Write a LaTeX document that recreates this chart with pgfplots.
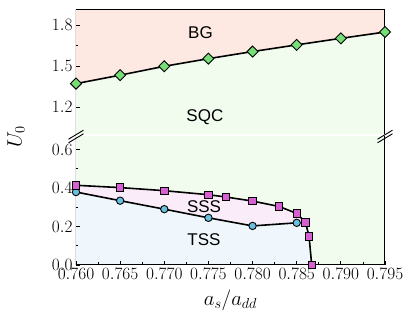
\documentclass[border=0pt]{standalone}
\usepackage{pgfplots}
\pgfplotsset{compat=1.18}
\usepackage{fontspec}
\newfontfamily\hv{Liberation Sans}

\definecolor{bgfill}{RGB}{253,233,225}
\definecolor{sqcfill}{RGB}{242,252,238}
\definecolor{sssfill}{RGB}{250,236,249}
\definecolor{tssfill}{RGB}{239,247,252}
\definecolor{cdiam}{RGB}{119,221,119}
\definecolor{csq}{RGB}{214,96,210}
\definecolor{ccirc}{RGB}{105,192,222}

\pgfplotsset{
  phase/.style={
    scale only axis, width=309pt,
    xmin=0.760, xmax=0.795,
    axis on top,
    axis background/.style={fill=sqcfill},
    axis line style={draw=none},
    tick align=inside,
    xtick pos=lower, ytick pos=left,
    major tick length=4pt, minor tick length=2.5pt,
    every tick/.style={black, line width=0.8pt},
    tick label style={font=\fontsize{19}{23}\selectfont},
    yticklabel style={/pgf/number format/.cd, fixed, fixed zerofill, precision=1},
    xticklabel style={/pgf/number format/.cd, fixed, fixed zerofill, precision=3},
    minor y tick num=1,
  },
  bnd/.style={black, line width=1.6pt},
}

\begin{document}
\begin{tikzpicture}
\useasboundingbox (-76pt,-55pt) rectangle (339pt,265pt);

% lower panel
\begin{axis}[phase, at={(0,0)}, anchor=south west, height=129pt,
  ymin=0, ymax=0.67,
  xtick={0.760,0.765,...,0.795}, minor x tick num=1,
  ytick={0,0.2,0.4,0.6}]
% SSS region (under squares)
\addplot[draw=none, fill=sssfill] coordinates {
  (0.760,0.414) (0.765,0.402) (0.770,0.386) (0.775,0.365) (0.777,0.353)
  (0.780,0.332) (0.783,0.304) (0.785,0.268) (0.786,0.221) (0.7864,0.148)
  (0.7867,0.0) (0.760,0.0)} -- cycle;
% TSS region (under circles)
\addplot[draw=none, fill=tssfill] coordinates {
  (0.760,0.379) (0.765,0.334) (0.770,0.290) (0.775,0.245) (0.780,0.203)
  (0.785,0.219) (0.786,0.221) (0.7864,0.148) (0.7867,0.0) (0.760,0.0)} -- cycle;
% TSS/SSS boundary
\addplot[bnd, mark=*, mark size=3.7pt,
  mark options={fill=ccirc, draw=black, line width=0.9pt}] coordinates {
  (0.760,0.379) (0.765,0.334) (0.770,0.290) (0.775,0.245) (0.780,0.203)
  (0.785,0.219)};
% SSS/SQC boundary
\addplot[bnd, mark=square*, mark size=3.7pt,
  mark options={fill=csq, draw=black, line width=0.9pt}] coordinates {
  (0.760,0.414) (0.765,0.402) (0.770,0.386) (0.775,0.365) (0.777,0.353)
  (0.780,0.332) (0.783,0.304) (0.785,0.268) (0.786,0.221) (0.7864,0.148)
  (0.7867,0.0)};
\node[font=\hv\fontsize{17}{20}\selectfont] at (axis cs:0.7745,0.301) {SSS};
\node[font=\hv\fontsize{17}{20}\selectfont] at (axis cs:0.7745,0.130) {TSS};
\draw[black, line width=1pt] (rel axis cs:0,1) -- (rel axis cs:0,0)
  -- (rel axis cs:1,0) -- (rel axis cs:1,1);
\end{axis}

% upper panel
\begin{axis}[phase, at={(0,130.5pt)}, anchor=south west, height=125.5pt,
  ymin=1.0, ymax=1.92,
  xtick=\empty,
  ytick={1.2,1.5,1.8}]
\addplot[draw=none, fill=bgfill] coordinates {
  (0.760,1.373) (0.765,1.435) (0.770,1.500) (0.775,1.556) (0.780,1.608)
  (0.785,1.657) (0.790,1.705) (0.795,1.751) (0.795,1.92) (0.760,1.92)} -- cycle;
\addplot[bnd, mark=square*, mark size=3.9pt,
  mark options={rotate=45, fill=cdiam, draw=black, line width=0.9pt}] coordinates {
  (0.760,1.373) (0.765,1.435) (0.770,1.500) (0.775,1.556) (0.780,1.608)
  (0.785,1.657) (0.790,1.705) (0.795,1.751)};
\node[font=\hv\fontsize{17}{20}\selectfont] at (axis cs:0.7741,1.745) {BG};
\node[font=\hv\fontsize{17}{20}\selectfont] at (axis cs:0.7746,1.128) {SQC};
\draw[black, line width=1pt] (rel axis cs:0,0) -- (rel axis cs:0,1)
  -- (rel axis cs:1,1) -- (rel axis cs:1,0);
\end{axis}

% axis break marks
\foreach \xx in {0pt,309pt} {
  \draw[black, line width=0.9pt] (\xx-7.5pt,128.5pt+1.8pt-4.5pt) -- (\xx+7.5pt,128.5pt+1.8pt+4.5pt);
  \draw[black, line width=0.9pt] (\xx-7.5pt,128.5pt-1.8pt-4.5pt) -- (\xx+7.5pt,128.5pt-1.8pt+4.5pt);
}

\node[rotate=90, font=\fontsize{20}{24}\selectfont] at (-60pt,128pt) {$U_0$};
\node[font=\fontsize{20}{24}\selectfont] at (154.5pt,-35pt) {$a_s/a_{dd}$};
\end{tikzpicture}
\end{document}
